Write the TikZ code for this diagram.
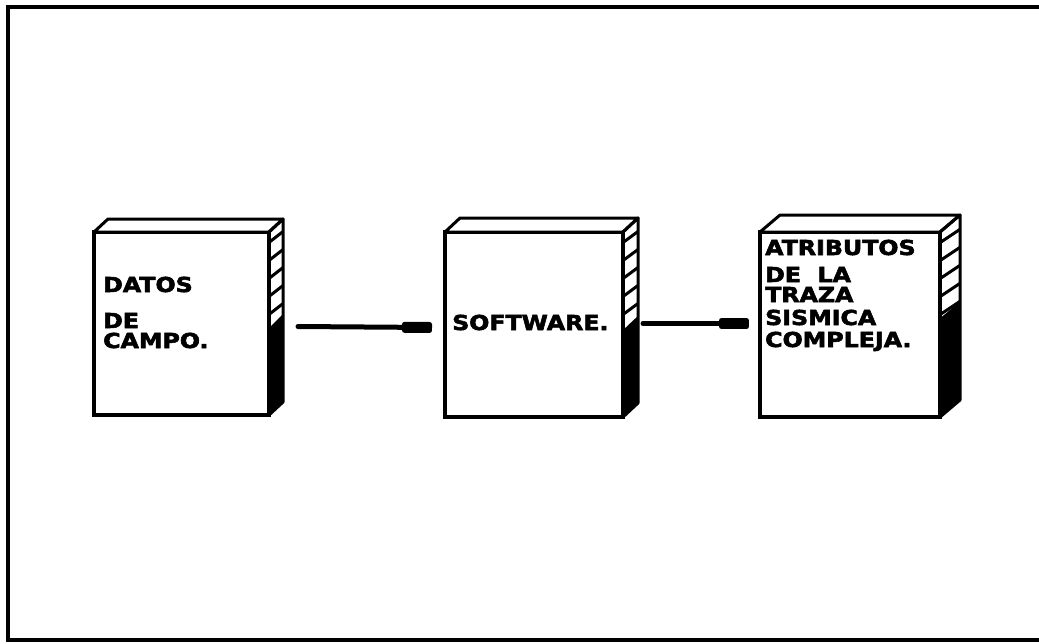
\documentclass[tikz,border=0pt]{standalone}
\usepackage{fontspec}
\usepackage{graphicx}
\newfontfamily\labelfont{DejaVu Sans}[BoldFeatures={FakeBold=2.5}]
\usetikzlibrary{calc,arrows.meta}

\tikzset{
  face/.style={draw, line width=3.5pt, fill=white, inner sep=0pt, outer sep=0pt, anchor=north west},
  edge/.style={line width=3pt, line join=round},
  stripe/.style={line width=3pt},
  flow/.style={line width=5pt, line cap=round, -{Rectangle[length=30pt,width=11pt,round]}},
  lbl/.style={anchor=base west, inner sep=0pt, font=\labelfont\bfseries\fontsize{20.6}{22}\selectfont},
  frame/.style={line width=4.5pt}
}
\newcommand\wide[1]{\scalebox{1.15}[1]{#1}}

% top and right faces of a block whose front face is node #1
% #2 depth in x, #3 depth in y, #4 start of the dark band below the top, #5 slant of the bands
\newcommand\bookside[5]{%
  \draw[edge, fill=white] (#1.north west) -- ++(#2,-#3) -- ($(#1.north east)+(#2,-#3)$) -- (#1.north east) -- cycle;
  \begin{scope}
    \clip (#1.north east) -- ++(#2,-#3) -- ($(#1.south east)+(#2,-#3)$) -- (#1.south east) -- cycle;
    \foreach \k in {12,30,...,210}
      \draw[stripe] ($(#1.north east)+(-2,\k)$) -- ++(#2+4,-#5);
    \fill ($(#1.north east)+(-2,#4)$) -- ++(#2+4,-#5-4) -- ++(0,300) -- ++(-#2-4,0) -- cycle;
  \end{scope}
  \draw[edge] (#1.north east) -- ++(#2,-#3) -- ($(#1.south east)+(#2,-#3)$) -- (#1.south east);
}

\begin{document}
\begin{tikzpicture}[x=1pt, y=-1pt]
  \useasboundingbox (0,0) rectangle (1039,643);

  % page frame
  \draw[frame] (1041,7) -- (8,7) -- (8,640) -- (1041,640);

  % front faces
  \node[face, minimum width=175pt, minimum height=183pt] (b1) at (94,232) {};
  \node[face, minimum width=178pt, minimum height=185pt] (b2) at (445,232) {};
  \node[face, minimum width=180pt, minimum height=185pt] (b3) at (760,232) {};

  \bookside{b1}{14}{13}{98}{14}
  \bookside{b2}{15}{14}{100}{14}
  \bookside{b3}{20}{17}{88}{16}

  % labels
  \node[lbl] (t1a) at (103,292) {\wide{DATOS}};
  \node[lbl] (t1b) at (103,328) {\wide{DE}};
  \node[lbl] (t1c) at (103,348) {\wide{CAMPO.}};

  \node[lbl] (t2a) at (452,330) {\wide{SOFTWARE.}};

  \node[lbl] (t3a) at (765,255) {\wide{ATRIBUTOS}};
  \node[lbl] (t3b) at (765,282) {\wide{DE\ \ LA}};
  \node[lbl] (t3c) at (765,302) {\wide{TRAZA}};
  \node[lbl] (t3d) at (765,325) {\wide{SISMICA}};
  \node[lbl] (t3e) at (765,347) {\wide{COMPLEJA.}};

  % connectors
  \draw[flow] ([xshift=29pt,yshift=-3pt]b1.east) -- ([xshift=-13pt,yshift=-3pt]b2.west);
  \draw[flow] ([xshift=20pt,yshift=1pt]b2.east) -- ([xshift=-11pt,yshift=1pt]b3.west);
\end{tikzpicture}
\end{document}
